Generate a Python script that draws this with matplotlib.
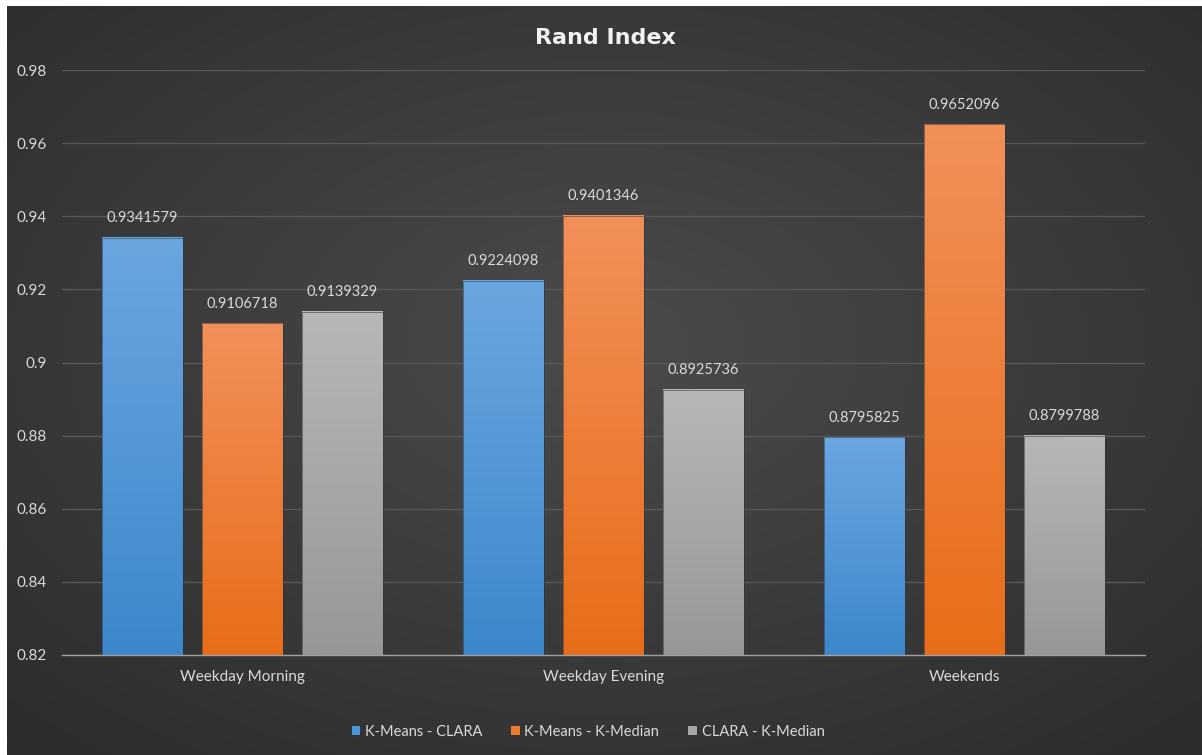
import numpy as np
import matplotlib
matplotlib.use("Agg")
import matplotlib.pyplot as plt
from matplotlib.colors import to_rgb
from matplotlib.patches import Rectangle

# Data
categories = ["Weekday Morning", "Weekday Evening", "Weekends"]
series_names = ["K-Means - CLARA", "K-Means - K-Median", "CLARA - K-Median"]
kmeans_clara = [0.9341579, 0.9224098, 0.8795825]
kmeans_kmedian = [0.9106718, 0.9401346, 0.9652096]
clara_kmedian = [0.9139329, 0.8925736, 0.8799788]
y_ticks = [0.82, 0.84, 0.86, 0.88, 0.9, 0.92, 0.94, 0.96, 0.98]
y_tick_labels = ["0.82", "0.84", "0.86", "0.88", "0.9", "0.92", "0.94", "0.96", "0.98"]

series = [kmeans_clara, kmeans_kmedian, clara_kmedian]
# (top colour, bottom colour) for each series' gradient fill
gradients = [("#6aa6e0", "#3c88cb"), ("#f2905a", "#e86d18"), ("#b7b7b7", "#979797")]
legend_colors = ["#4a94d8", "#ee7a2c", "#a6a6a6"]

FONT = "Lato"
TEXT = "#d9d9d9"
YMIN, YMAX = 0.82, 0.98

fig = plt.figure(figsize=(12.02, 7.55), dpi=100)
fig.patch.set_facecolor("white")

# Dark radial-gradient backdrop, inset slightly from the top/left edges
bg = fig.add_axes([7 / 1202, 0, 1 - 7 / 1202, 1 - 6 / 755])
bg.set_axis_off()
yy, xx = np.mgrid[0:1:400j, 0:1:600j]
d = np.sqrt(((xx - 0.5) / 0.75) ** 2 + ((yy - 0.45) / 0.75) ** 2)
d = np.clip(d / 0.95, 0, 1)
inner, outer = np.array(to_rgb("#4b4b4b")), np.array(to_rgb("#2d2d2d"))
img = inner[None, None, :] * (1 - d[..., None]) + outer[None, None, :] * d[..., None]
bg.imshow(img, extent=[0, 1, 0, 1], aspect="auto", origin="upper")
bg.set_xlim(0, 1)
bg.set_ylim(0, 1)

ax = fig.add_axes([62 / 1202, 100 / 755, (1145 - 62) / 1202, (655 - 70) / 755])
ax.patch.set_alpha(0)

x = np.arange(len(categories))
width = 0.222
offsets = [-1, 0, 1]
gap = 0.055

for vals, (ctop, cbot), off in zip(series, gradients, offsets):
    heights = [v - YMIN for v in vals]
    bars = ax.bar(x + off * (width + gap), heights, width, bottom=YMIN,
                  color="none", edgecolor="none", zorder=3)
    top, bot = np.array(to_rgb(ctop)), np.array(to_rgb(cbot))
    t = np.linspace(0, 1, 256)[:, None]
    grad = (top[None, :] * (1 - t) + bot[None, :] * t)[:, None, :]
    for rect, v in zip(bars, vals):
        x0, w = rect.get_x(), rect.get_width()
        y0, h = rect.get_y(), rect.get_height()
        ax.imshow(grad, extent=[x0, x0 + w, y0, y0 + h], aspect="auto",
                  origin="upper", zorder=3, interpolation="bilinear")
        ax.add_patch(Rectangle((x0, y0), w, h, fill=False, edgecolor="#2a3440",
                               linewidth=0.6, alpha=0.6, zorder=3.5))
        ax.annotate(f"{v:.7f}".rstrip("0"), (x0 + w / 2, y0 + h),
                    xytext=(0, 9), textcoords="offset points",
                    ha="center", va="bottom", color=TEXT, fontsize=10.5,
                    family=FONT)

ax.set_xlim(-0.5, len(categories) - 0.5)
ax.set_ylim(YMIN, YMAX)
ax.set_yticks(y_ticks)
ax.set_yticklabels(y_tick_labels, family=FONT, fontsize=11, color=TEXT)
ax.set_xticks(x)
ax.set_xticklabels(categories, family=FONT, fontsize=11, color=TEXT)
ax.tick_params(axis="both", length=0)
ax.tick_params(axis="y", pad=11)
ax.tick_params(axis="x", pad=11)

ax.yaxis.grid(True, color="#585858", linewidth=1.0, zorder=0)
ax.set_axisbelow(True)
for s in ["top", "right", "left"]:
    ax.spines[s].set_visible(False)
ax.spines["bottom"].set_color("#a0a0a0")
ax.spines["bottom"].set_linewidth(1.0)
ax.spines["bottom"].set_zorder(4)

fig.text(605 / 1202, 1 - 38 / 755, "Rand Index", ha="center", va="center",
         color="#f2f2f2", fontsize=16, fontweight="bold", family="DejaVu Sans")

handles = [Rectangle((0, 0), 1, 1, facecolor=c, edgecolor="none") for c in legend_colors]
leg = fig.legend(handles, series_names, loc="center", ncol=3,
                 bbox_to_anchor=(588 / 1202, 1 - 732 / 755), frameon=False,
                 handlelength=0.6, handleheight=0.6, handletextpad=0.3,
                 columnspacing=2.0, prop={"family": FONT, "size": 10.5})
for txt in leg.get_texts():
    txt.set_color(TEXT)

fig.savefig("out.png", dpi=100, facecolor=fig.get_facecolor())
